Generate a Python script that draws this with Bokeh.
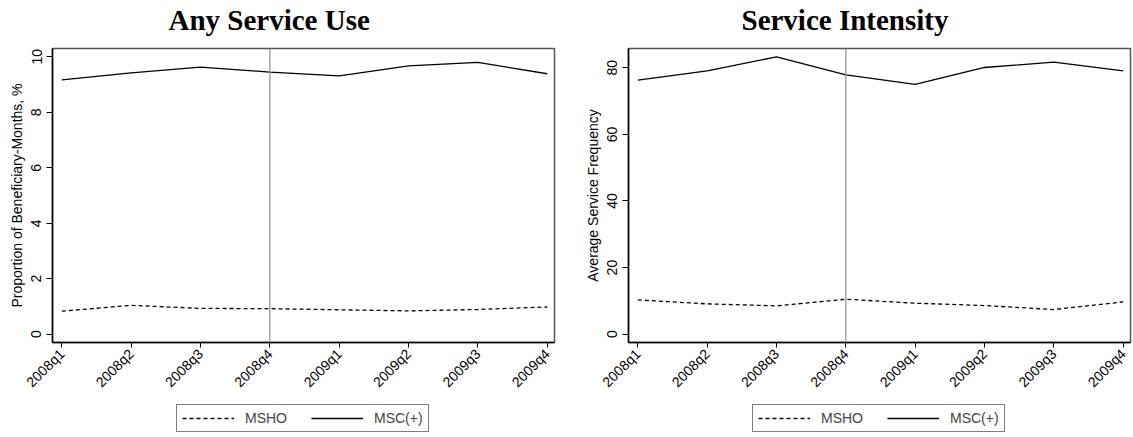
from math import pi

from bokeh.core.properties import value
from bokeh.embed import file_html
from bokeh.layouts import column, row
from bokeh.models import FixedTicker, Legend, LegendItem, Range1d, Span
from bokeh.plotting import figure
from bokeh.resources import INLINE

# Quarterly series for the two outcome measures
quarters = ["2008q1", "2008q2", "2008q3", "2008q4",
            "2009q1", "2009q2", "2009q3", "2009q4"]
use_msho = [0.83, 1.04, 0.93, 0.92, 0.88, 0.84, 0.89, 0.98]
use_msc = [9.17, 9.42, 9.63, 9.45, 9.31, 9.67, 9.80, 9.39]
intensity_msho = [10.3, 9.1, 8.5, 10.5, 9.3, 8.6, 7.4, 9.7]
intensity_msc = [76.3, 79.1, 83.3, 77.9, 75.0, 80.1, 81.7, 79.1]
use_ticks = [0, 2, 4, 6, 8, 10]
intensity_ticks = [0, 20, 40, 60, 80]
policy_quarter = "2008q4"
series_names = ["MSHO", "MSC(+)"]
titles = ["Any Service Use", "Service Intensity"]
ylabels = ["Proportion of Beneficiary-Months, %", "Average Service Frequency"]

SANS = "Liberation Sans"
SERIF = "Liberation Serif"
MSHO_DASH = "4 3"
TITLE_H, PLOT_H, KEY_H = 46, 354, 37


def strip(width, height):
    """Blank axis-free figure whose frame fills it, in pixel units."""
    s = figure(
        width=width, height=height, title=None,
        x_range=Range1d(0, width), y_range=Range1d(0, height),
        x_axis_type=None, y_axis_type=None,
        output_backend="svg", toolbar_location=None, min_border=0,
        background_fill_color="white", border_fill_color="white",
    )
    s.outline_line_color = None
    s.xgrid.visible = False
    s.ygrid.visible = False
    return s


def title_strip(width, text, left):
    s = strip(width, TITLE_H)
    s.text(x=[left], y=[27], text=[text], text_font=value(SERIF),
           text_font_style="bold", text_font_size="29px", text_color="black",
           text_align="left", text_baseline="alphabetic")
    return s


def panel(ylabel, msho, msc, yticks, y_start, y_end, width,
          border_left, border_right):
    xs = list(range(len(quarters)))
    p = figure(
        width=width, height=PLOT_H, title=None,
        x_range=Range1d(-0.135, len(quarters) - 1 + 0.105),
        y_range=Range1d(y_start, y_end),
        output_backend="svg", toolbar_location=None,
        min_border_left=border_left, min_border_right=border_right,
        min_border_top=2, min_border_bottom=58,
        background_fill_color="white", border_fill_color="white",
    )
    p.outline_line_color = "#555555"
    p.outline_line_width = 1.5
    p.xgrid.visible = False
    p.ygrid.visible = False

    # vertical marker at the policy change quarter
    p.add_layout(Span(location=quarters.index(policy_quarter),
                      dimension="height", line_color="#8c8c8c",
                      line_width=1.2))

    p.line(xs, msho, line_color="black", line_width=1.3, line_dash=MSHO_DASH)
    p.line(xs, msc, line_color="black", line_width=1.3)

    xa = p.xaxis[0]
    xa.ticker = FixedTicker(ticks=xs)
    xa.major_label_overrides = {i: q for i, q in enumerate(quarters)}
    xa.major_label_orientation = pi / 4
    xa.minor_tick_line_color = None
    xa.major_tick_in = 0
    xa.major_tick_out = 5
    xa.major_label_standoff = 4
    xa.axis_line_width = 1.5
    xa.axis_line_color = "black"
    xa.major_tick_line_color = "black"
    xa.major_label_text_font = SANS
    xa.major_label_text_font_size = "14px"
    xa.major_label_text_color = "black"

    ya = p.yaxis[0]
    ya.ticker = FixedTicker(ticks=yticks)
    ya.minor_tick_line_color = None
    ya.major_tick_in = 0
    ya.major_tick_out = 6
    ya.major_label_standoff = 5
    ya.major_label_orientation = "vertical"
    ya.axis_line_width = 1.5
    ya.axis_line_color = "black"
    ya.major_tick_line_color = "black"
    ya.major_label_text_font = SANS
    ya.major_label_text_font_size = "14px"
    ya.major_label_text_color = "black"
    ya.axis_label = ylabel
    ya.axis_label_text_font = SANS
    ya.axis_label_text_font_style = "normal"
    ya.axis_label_text_font_size = "14px"
    ya.axis_label_text_color = "black"
    ya.axis_label_standoff = 4
    return p


def legend_strip(width, left_offset):
    """A thin strip under a panel holding its boxed key."""
    s = strip(width, KEY_H)
    # single-point key lines: nothing is drawn in the strip itself
    k_msho = s.line([0], [0], line_color="black", line_width=1.3,
                    line_dash=MSHO_DASH)
    k_msc = s.line([0], [0], line_color="black", line_width=1.3)
    legend = Legend(
        items=[LegendItem(label=series_names[0], renderers=[k_msho]),
               LegendItem(label=series_names[1], renderers=[k_msc])],
        orientation="horizontal", location=(left_offset, 5),
        border_line_color="black", border_line_width=1,
        padding=5, spacing=24, label_standoff=11,
        glyph_width=52, glyph_height=16, label_height=16,
        label_text_font=SANS, label_text_font_size="14px",
        margin=0,
    )
    s.add_layout(legend)
    return s


left = panel(ylabels[0], use_msho, use_msc, use_ticks, -0.3, 10.3,
             566, 52, 12)
right = panel(ylabels[1], intensity_msho, intensity_msc, intensity_ticks,
              -2.5, 85.8, 567, 62, 3)

layout = column(
    row(title_strip(566, titles[0], 168), title_strip(567, titles[1], 175)),
    row(left, right),
    row(legend_strip(566, 176), legend_strip(567, 186)),
)
open("out.html", "w").write(file_html(layout, INLINE))
